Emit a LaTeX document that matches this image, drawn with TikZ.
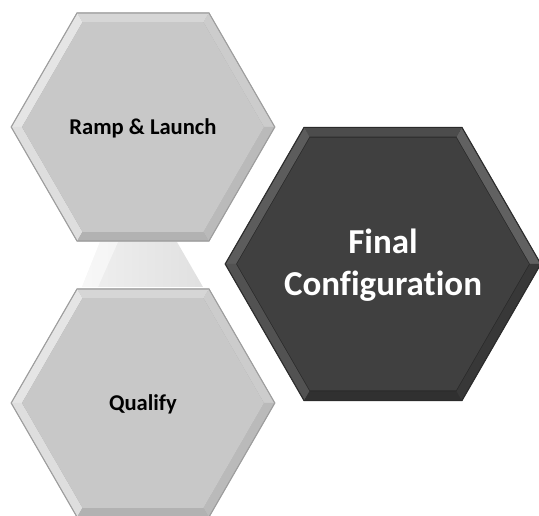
\documentclass[tikz,border=0pt]{standalone}
\usepackage{fontspec}
\setmainfont[Ligatures=NoCommon]{Carlito}
\usetikzlibrary{calc}

% facet colours of the bevelled hexagons
\definecolor{lgBase}{HTML}{C8C8C8}
\definecolor{lgLine}{HTML}{9C9C9C}
\definecolor{dkBase}{HTML}{404040}
\definecolor{dkLine}{HTML}{2A2A2A}

% bevelled flat-top hexagon: outline, facets and inner face
\newcommand\bevelhex[5]{%
  \fill[#4,draw=#5,line width=0.8pt]
    ($(#1)+(0:#2)$) -- ($(#1)+(60:#2)$) -- ($(#1)+(120:#2)$) --
    ($(#1)+(180:#2)$) -- ($(#1)+(240:#2)$) -- ($(#1)+(300:#2)$) -- cycle;
}
\newcommand\hexfacets[3]{%
  \foreach \a/\c in {#3}{%
    \fill[\c] ($(#1)+(\a:#2)$) -- ($(#1)+(\a+60:#2)$) --
      ($(#1)+(\a+60:#2-10)$) -- ($(#1)+(\a:#2-10)$) -- cycle;
  }%
}
\newcommand\hexinner[3]{%
  \fill[#3]
    ($(#1)+(0:#2)$) -- ($(#1)+(60:#2)$) -- ($(#1)+(120:#2)$) --
    ($(#1)+(180:#2)$) -- ($(#1)+(240:#2)$) -- ($(#1)+(300:#2)$) -- cycle;
}

\tikzset{
  lighttext/.style={font=\bfseries\fontsize{22.6}{27}\selectfont, text=black, align=center},
  darktext/.style={font=\bfseries\fontsize{35}{42}\selectfont, text=white, align=center},
}

\begin{document}
\begin{tikzpicture}[x=1pt,y=1pt]
  \useasboundingbox (0,0) rectangle (539,515);

  \coordinate (tc) at (143,388);
  \coordinate (bc) at (143,112);
  \coordinate (rc) at (383,251);

  % faint link between the two left hexagons
  \shade[left color=white!94!black, right color=white!88!black]
    (100,273) -- (177,273) -- (203,228) -- (82,228) -- cycle;
  \fill[white,opacity=0.5] (100,273) -- (118,273) -- (98,228) -- (82,228) -- cycle;

  % top hexagon
  \bevelhex{tc}{132}{lgBase}{lgLine}{}
  \hexfacets{tc}{131}{0/white!80!black, 60/white!84!black, 120/white!90!black,
    180/white!87!black, 240/white!70!black, 300/white!73!black}
  \hexinner{tc}{121}{lgBase}

  % bottom hexagon
  \bevelhex{bc}{132}{lgBase}{lgLine}{}
  \hexfacets{bc}{131}{0/white!80!black, 60/white!84!black, 120/white!90!black,
    180/white!87!black, 240/white!70!black, 300/white!73!black}
  \hexinner{bc}{121}{lgBase}

  % right hexagon
  \bevelhex{rc}{158}{dkBase}{dkLine}{}
  \hexfacets{rc}{157}{0/white!38!black, 60/white!30!black, 120/white!36!black,
    180/white!32!black, 240/white!19!black, 300/white!22!black}
  \hexinner{rc}{146}{dkBase}

  % labels
  \node[lighttext] (ramp) at ($(tc)+(0,-1)$) {Ramp \& Launch};
  \node[lighttext] (qual) at ($(bc)+(0,-1)$) {Qualify};
  \node[darktext] (final) at ($(rc)+(0,-1)$) {Final\\Configuration};
\end{tikzpicture}
\end{document}
